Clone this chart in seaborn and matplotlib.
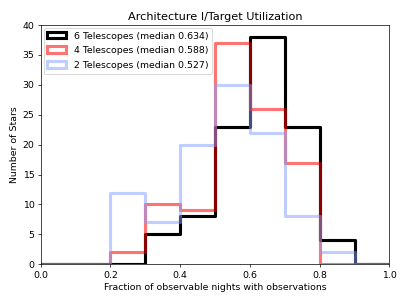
import numpy as np
import pandas as pd
import matplotlib
matplotlib.use("Agg")
import matplotlib.pyplot as plt
from matplotlib.patches import Patch
import seaborn as sns

# bin edges / counts
edges = np.linspace(0, 1, 11)
centers = (edges[:-1] + edges[1:]) / 2

counts_6 = [0, 0, 0, 5, 8, 23, 38, 23, 4, 0]
counts_4 = [0, 0, 2, 10, 9, 37, 26, 17, 0, 0]
counts_2 = [0, 0, 12, 7, 20, 30, 22, 8, 2, 0]

labels = ["6 Telescopes", "4 Telescopes", "2 Telescopes"]
medians = [0.634, 0.588, 0.527]

colors = ["black", "red", (0.5, 0.62, 1.0)]
alphas = [1.0, 0.55, 0.5]

matplotlib.rcParams["font.size"] = 10.7

fig, ax = plt.subplots(figsize=(6.4, 4.8), dpi=407 / 6.4)
fig.subplots_adjust(left=0.1, right=0.957, top=0.918, bottom=0.133)

handles = []
for counts, lab, med, c, a in zip([counts_6, counts_4, counts_2], labels, medians, colors, alphas):
    df = pd.DataFrame({"frac": centers, "n": counts})
    sns.histplot(data=df, x="frac", weights="n", bins=list(edges), element="step", fill=False,
                 color=c, alpha=a, linewidth=3.5, ax=ax)
    handles.append(Patch(facecolor="none", edgecolor=matplotlib.colors.to_rgba(c, a),
                         linewidth=3.5, label=f"{lab} (median {med:.3f})"))

ax.set_xlim(0, 1)
ax.set_ylim(0, 40)
ax.set_yticks(np.arange(0, 41, 5))
ax.set_xlabel("Fraction of observable nights with observations")
ax.set_ylabel("Number of Stars")
ax.set_title("Architecture I/Target Utilization", fontsize=12.8)
ax.legend(handles=handles, loc="upper left", labelspacing=0.6, borderaxespad=0.3)

plt.savefig("out.png")
